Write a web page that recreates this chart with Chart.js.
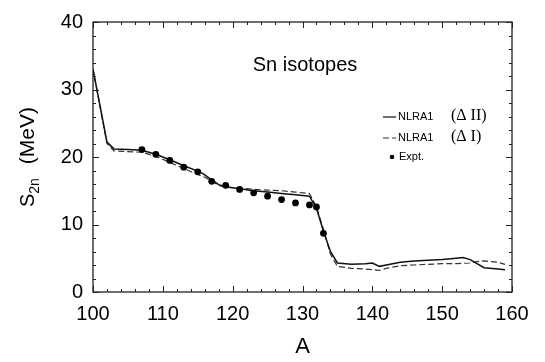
<!DOCTYPE html>
<html>
<head>
<meta charset="utf-8">
<script src="https://cdn.jsdelivr.net/npm/chart.js@4.4.1/dist/chart.umd.min.js"></script>
<style>
html, body { margin: 0; padding: 0; background: #fff; }
#wrap { width: 545px; height: 362px; }
</style>
</head>
<body>
<div id="wrap"><canvas id="c" width="545" height="362"></canvas></div>
<script>
// NLRA1 with Delta II pairing (solid)
var deltaIIA = [100, 102, 103, 105, 107, 109, 111, 113, 115, 115.8, 117, 118, 119, 121, 123, 125, 127, 129, 131, 132, 133, 134, 135, 137, 139, 140, 141, 142, 144, 146, 148, 150, 152, 153, 154, 156, 158, 159];
var deltaIIS = [33.0, 22.2, 21.2, 21.1, 21.0, 20.4, 19.6, 18.7, 17.9, 17.5, 16.6, 15.9, 15.6, 15.3, 15.0, 14.8, 14.6, 14.4, 14.2, 12.4, 9.0, 6.0, 4.3, 4.1, 4.2, 4.3, 3.8, 4.0, 4.4, 4.6, 4.7, 4.8, 5.0, 5.1, 4.8, 3.6, 3.4, 3.3];

// NLRA1 with Delta I pairing (dashed)
var deltaIA = [100, 102, 103, 105, 107, 109, 111, 113, 115, 116, 117, 118, 119, 121, 123, 125, 127, 129, 131, 132, 133, 134, 135, 137, 139, 141, 142, 144, 146, 148, 150, 152, 154, 155, 156, 158, 159];
var deltaIS = [33.0, 22.0, 20.9, 20.8, 20.7, 20.1, 19.2, 18.3, 17.4, 17.0, 16.4, 15.8, 15.5, 15.4, 15.2, 15.1, 15.0, 14.8, 14.6, 12.6, 9.3, 5.6, 3.8, 3.5, 3.4, 3.2, 3.5, 3.9, 4.0, 4.1, 4.2, 4.2, 4.3, 4.5, 4.6, 4.4, 4.1];

// measured two-neutron separation energies
var exptA = [107, 109, 111, 113, 115, 117, 119, 121, 123, 125, 127, 129, 131, 132, 133];
var exptS = [21.1, 20.4, 19.5, 18.5, 17.8, 16.4, 15.8, 15.2, 14.7, 14.2, 13.7, 13.2, 12.9, 12.6, 8.7];

var xTicks = [100, 110, 120, 130, 140, 150, 160];
var yTicks = [0, 10, 20, 30, 40];

function toPoints(xs, ys) {
    var pts = [];
    for (var i = 0; i < xs.length; i++) {
        pts.push({ x: xs[i], y: ys[i] });
    }
    return pts;
}

var SANS = '"Liberation Sans", Arial, sans-serif';
var SERIF = '"Liberation Serif", "Times New Roman", serif';

// frame, inward ticks, in-plot label, axis titles and the legend block
var decorations = {
    id: 'decorations',
    afterDraw: function(chart) {
        var ctx = chart.ctx;
        var a = chart.chartArea;
        var xs = chart.scales.x;
        var ys = chart.scales.y;
        ctx.save();
        ctx.strokeStyle = '#222';
        ctx.lineWidth = 1.3;
        ctx.strokeRect(a.left, a.top, a.right - a.left, a.bottom - a.top);

        ctx.lineWidth = 1;
        ctx.beginPath();
        for (var v = 100; v <= 160; v += 2) {
            var px = Math.round(xs.getPixelForValue(v)) + 0.5;
            var len = (v % 10 === 0) ? 6 : 3;
            ctx.moveTo(px, a.bottom); ctx.lineTo(px, a.bottom - len);
            ctx.moveTo(px, a.top); ctx.lineTo(px, a.top + len);
        }
        for (var s = 0; s <= 40; s += 2) {
            var py = Math.round(ys.getPixelForValue(s)) + 0.5;
            var l2 = (s % 10 === 0) ? 6 : 3;
            ctx.moveTo(a.left, py); ctx.lineTo(a.left + l2, py);
            ctx.moveTo(a.right, py); ctx.lineTo(a.right - l2, py);
        }
        ctx.stroke();

        ctx.fillStyle = '#000';
        ctx.font = '20px ' + SANS;
        ctx.textAlign = 'center';
        ctx.textBaseline = 'alphabetic';
        ctx.fillText('Sn isotopes', 305, 71);

        // x title
        ctx.font = '22px ' + SANS;
        ctx.fillText('A', (a.left + a.right) / 2, 353);

        // y title, S with subscript 2n, rotated
        ctx.save();
        ctx.translate(34, (a.top + a.bottom) / 2);
        ctx.rotate(-Math.PI / 2);
        ctx.textAlign = 'left';
        var big = '20px ' + SANS, small = '14px ' + SANS, unit = '21px ' + SANS;
        ctx.font = big; var wS = ctx.measureText('S').width;
        ctx.font = small; var w2 = ctx.measureText('2n').width;
        ctx.font = unit; var wU = ctx.measureText('(MeV)').width;
        var gap = 14;
        var x0 = -(wS + w2 + gap + wU) / 2;
        ctx.font = big; ctx.fillText('S', x0, 0);
        ctx.font = small; ctx.fillText('2n', x0 + wS, 5);
        ctx.font = unit; ctx.fillText('(MeV)', x0 + wS + w2 + gap, 0);
        ctx.restore();

        // legend
        var ds = chart.data.datasets;
        var rows = [117, 138, 157];
        ctx.textAlign = 'left';
        ctx.textBaseline = 'middle';
        for (var i = 0; i < ds.length; i++) {
            var y = rows[i];
            ctx.strokeStyle = ds[i].borderColor;
            ctx.lineWidth = 1.2;
            if (ds[i].showLine) {
                ctx.setLineDash(ds[i].borderDash || []);
                ctx.beginPath();
                ctx.moveTo(383, y); ctx.lineTo(396, y);
                ctx.stroke();
                ctx.setLineDash([]);
                ctx.fillStyle = '#000';
                ctx.font = '11px ' + SANS;
                ctx.fillText(ds[i].label, 398, y);
                ctx.font = '16px ' + SERIF;
                ctx.fillText(ds[i].note, 451, y - 1);
            } else {
                ctx.fillStyle = '#000';
                ctx.beginPath();
                ctx.arc(392, y, 2.3, 0, Math.PI * 2);
                ctx.fill();
                ctx.font = '11px ' + SANS;
                ctx.fillText(ds[i].label, 399, y);
            }
        }
        ctx.restore();
    }
};

new Chart(document.getElementById('c'), {
    type: 'scatter',
    data: {
        datasets: [
            {
                label: 'NLRA1', note: '(\u0394 II)',
                data: toPoints(deltaIIA, deltaIIS),
                showLine: true, borderColor: '#111', borderWidth: 1.5,
                pointRadius: 0, tension: 0, order: 2
            },
            {
                label: 'NLRA1', note: '(\u0394 I)',
                data: toPoints(deltaIA, deltaIS),
                showLine: true, borderColor: '#333', borderWidth: 1.2,
                borderDash: [6, 3], pointRadius: 0, tension: 0, order: 3
            },
            {
                label: 'Expt.',
                data: toPoints(exptA, exptS),
                showLine: false, pointRadius: 3.4, pointBackgroundColor: '#000',
                pointBorderColor: '#000', pointBorderWidth: 0, order: 1
            }
        ]
    },
    options: {
        responsive: false,
        animation: false,
        devicePixelRatio: 1,
        layout: { padding: { top: 12, right: 33, left: 0, bottom: 0 } },
        plugins: { legend: { display: false }, tooltip: { enabled: false } },
        scales: {
            x: {
                type: 'linear', min: 100, max: 160,
                afterFit: function(s) { s.height = 70; },
                afterBuildTicks: function(s) { s.ticks = xTicks.map(function(v) { return { value: v }; }); },
                grid: { display: false, drawTicks: false },
                border: { display: false },
                ticks: { color: '#000', padding: 10, font: { family: SANS, size: 20 }, maxRotation: 0 }
            },
            y: {
                type: 'linear', min: 0, max: 40,
                afterFit: function(s) { s.width = 93; },
                afterBuildTicks: function(s) { s.ticks = yTicks.map(function(v) { return { value: v }; }); },
                grid: { display: false, drawTicks: false },
                border: { display: false },
                ticks: { color: '#000', padding: 10, font: { family: SANS, size: 20 } }
            }
        }
    },
    plugins: [decorations]
});
</script>
</body>
</html>
